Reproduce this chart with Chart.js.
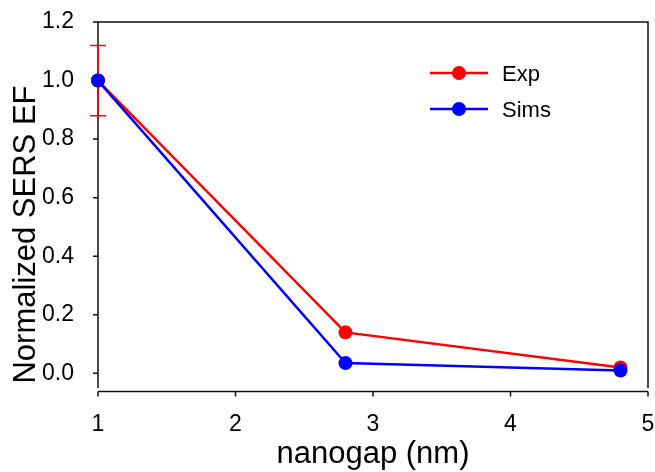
<!DOCTYPE html>
<html>
<head>
<meta charset="utf-8">
<script src="https://cdn.jsdelivr.net/npm/chart.js@4.4.1/dist/chart.umd.min.js"></script>
<style>
  html, body { margin: 0; padding: 0; background: #fff; }
  #wrap { width: 655px; height: 472px; }
</style>
</head>
<body>
<div id="wrap"><canvas id="efChart"></canvas></div>
<script>
'use strict';

const gaps = [1, 2.8, 4.8];
const expEF = [1.0, 0.14, 0.02];
const expErr = [0.12, 0, 0];
const simsEF = [1.0, 0.035, 0.01];
const xTicks = [1, 2, 3, 4, 5];
const yTicks = [0, 0.2, 0.4, 0.6, 0.8, 1.0, 1.2];

const FONT = '"Liberation Sans", Arial, sans-serif';
Chart.defaults.font.family = FONT;
Chart.defaults.font.size = 23;
Chart.defaults.color = '#000';

function toPoints(xs, ys) {
  return xs.map((x, i) => ({ x: x, y: ys[i] }));
}

// box frame, offset x axis, outward ticks and the error bar
const framePlugin = {
  id: 'frame',
  beforeDatasetsDraw(chart) {
    const { ctx, chartArea: a, scales } = chart;
    const xs = scales.x, ys = scales.y;
    ctx.save();
    ctx.strokeStyle = '#111';
    ctx.lineWidth = 1.5;
    ctx.beginPath();
    ctx.moveTo(a.left, a.bottom);
    ctx.lineTo(a.left, a.top);
    ctx.lineTo(a.right, a.top);
    ctx.lineTo(a.right, a.bottom);
    ctx.stroke();

    const xb = a.bottom + 3.5;
    ctx.beginPath();
    ctx.moveTo(a.left, xb);
    ctx.lineTo(a.right, xb);
    xTicks.forEach((v) => {
      const px = xs.getPixelForValue(v);
      ctx.moveTo(px, xb);
      ctx.lineTo(px, xb + 5);
    });
    yTicks.forEach((v) => {
      const py = ys.getPixelForValue(v);
      ctx.moveTo(a.left, py);
      ctx.lineTo(a.left - 5, py);
    });
    ctx.stroke();

    // error bars on the experimental series
    ctx.strokeStyle = '#ff0000';
    ctx.lineWidth = 1.5;
    gaps.forEach((g, i) => {
      if (!expErr[i]) return;
      const px = xs.getPixelForValue(g);
      const top = ys.getPixelForValue(expEF[i] + expErr[i]);
      const bot = ys.getPixelForValue(expEF[i] - expErr[i]);
      ctx.beginPath();
      ctx.moveTo(px, top); ctx.lineTo(px, bot);
      ctx.moveTo(px - 8, top); ctx.lineTo(px + 8, top);
      ctx.moveTo(px - 8, bot); ctx.lineTo(px + 8, bot);
      ctx.stroke();
    });
    ctx.restore();
  },
  afterDraw(chart) {
    const { ctx, chartArea: a } = chart;
    ctx.save();
    ctx.fillStyle = '#000';

    // axis titles
    ctx.font = '31px ' + FONT;
    ctx.textAlign = 'center';
    ctx.textBaseline = 'alphabetic';
    ctx.fillText('nanogap (nm)', (a.left + a.right) / 2, 463);
    ctx.save();
    ctx.translate(35, 234.5);
    ctx.rotate(-Math.PI / 2);
    ctx.fillText('Normalized SERS EF', 0, 0);
    ctx.restore();

    // legend
    const rows = [73, 109];
    chart.data.datasets.forEach((ds, i) => {
      const y = rows[i];
      ctx.strokeStyle = ds.borderColor;
      ctx.lineWidth = 2.5;
      ctx.beginPath();
      ctx.moveTo(430, y);
      ctx.lineTo(488, y);
      ctx.stroke();
      ctx.fillStyle = ds.borderColor;
      ctx.beginPath();
      ctx.arc(459, y, 7, 0, Math.PI * 2);
      ctx.fill();
      ctx.fillStyle = '#000';
      ctx.font = '22px ' + FONT;
      ctx.textAlign = 'left';
      ctx.fillText(ds.label, 502, y + 8);
    });
    ctx.restore();
  },
};

new Chart(document.getElementById('efChart'), {
  type: 'line',
  data: {
    datasets: [
      {
        label: 'Exp',
        data: toPoints(gaps, expEF),
        borderColor: '#ff0000',
        backgroundColor: '#ff0000',
        borderWidth: 2.5,
        pointRadius: 7,
        pointBorderWidth: 0,
        tension: 0,
        clip: false,
        order: 1,
      },
      {
        label: 'Sims',
        data: toPoints(gaps, simsEF),
        borderColor: '#0000ff',
        backgroundColor: '#0000ff',
        borderWidth: 2.5,
        pointRadius: 7,
        pointBorderWidth: 0,
        tension: 0,
        clip: false,
        order: 0,
      },
    ],
  },
  options: {
    responsive: true,
    maintainAspectRatio: false,
    animation: false,
    layout: { padding: { left: 0, top: 22, right: 7, bottom: 0 } },
    plugins: {
      legend: { display: false },
      tooltip: { enabled: false },
    },
    scales: {
      x: {
        type: 'linear',
        min: 1,
        max: 5,
        grid: { display: false },
        border: { display: false },
        afterBuildTicks: (s) => { s.ticks = xTicks.map((v) => ({ value: v })); },
        afterFit: (s) => {
          s.height = 84;
          s.paddingLeft = 0;
          s.paddingRight = 0;
        },
        ticks: {
          color: '#000',
          padding: 15,
          maxRotation: 0,
          autoSkip: false,
          font: { size: 23 },
          callback: (v) => String(v),
        },
      },
      y: {
        type: 'linear',
        min: -0.05,
        max: 1.2,
        grid: { display: false },
        border: { display: false },
        afterBuildTicks: (s) => { s.ticks = yTicks.map((v) => ({ value: v })); },
        afterFit: (s) => {
          s.width = 98;
          s.paddingTop = 0;
          s.paddingBottom = 0;
        },
        ticks: {
          color: '#000',
          padding: 16,
          autoSkip: false,
          font: { size: 23 },
          callback: (v) => v.toFixed(1),
        },
      },
    },
  },
  plugins: [framePlugin],
});
</script>
</body>
</html>
